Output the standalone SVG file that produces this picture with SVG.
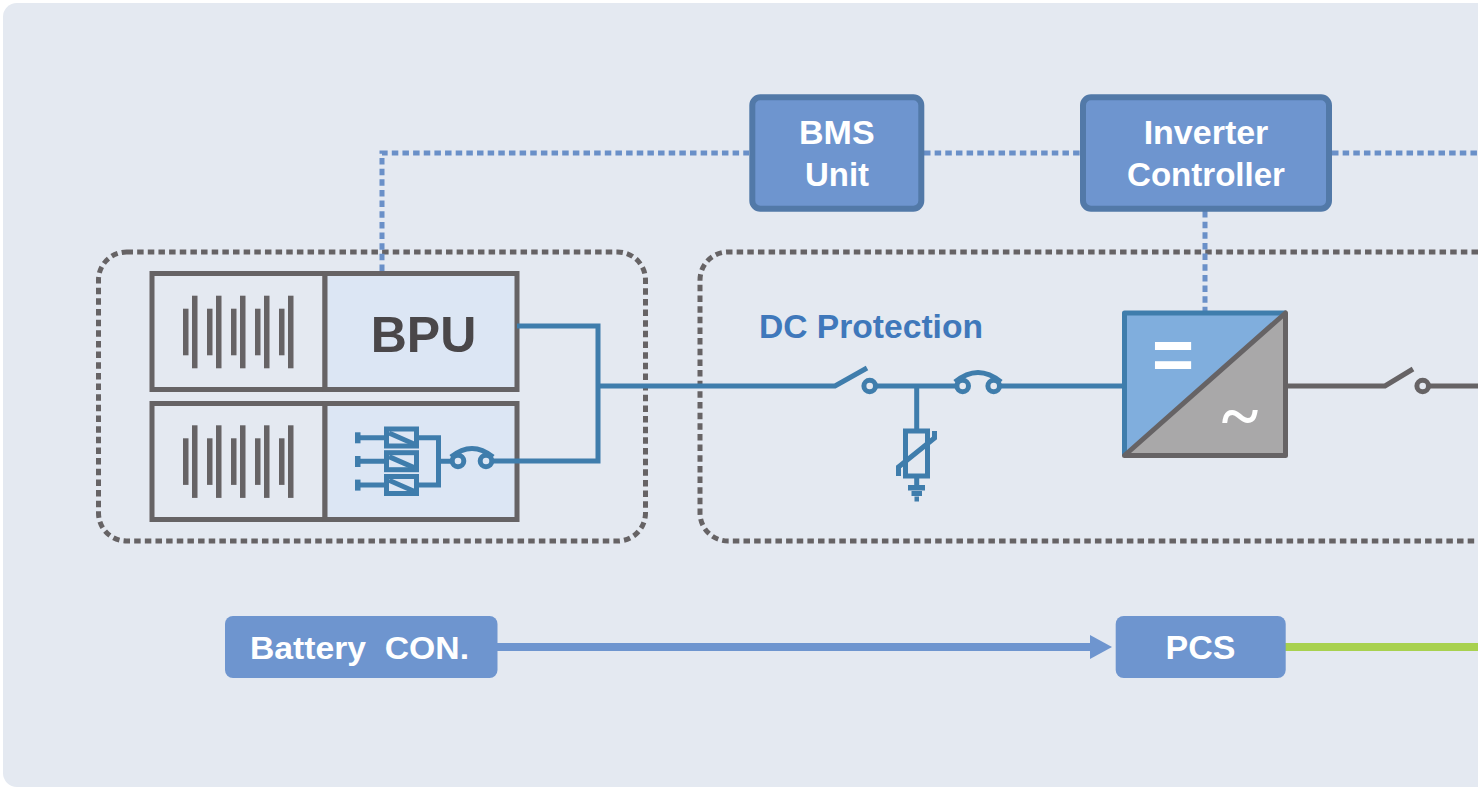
<svg xmlns="http://www.w3.org/2000/svg" width="1478" height="787" viewBox="0 0 1478 787">
<style>
text{font-family:"Liberation Sans",Arial,sans-serif;font-weight:700}
.w{fill:#fff;font-size:34px;text-anchor:middle}
.n{fill:#6e95cf;stroke:#5279a8;stroke-width:6}
.p{fill:#6e95cf}
.cell{fill:#e4e9f1;stroke:#666365;stroke-width:5}
.cellb{fill:#dce6f4;stroke:#666365;stroke-width:5}
.bar{fill:#666365}
.b{fill:none;stroke:#3f7dac;stroke-width:5}
.g{fill:none;stroke:#666365;stroke-width:5}
.bf{fill:#3f7dac}
.dash{fill:none;stroke:#666365;stroke-width:5;stroke-dasharray:6.5 4.15}
.dot{fill:none;stroke:#6a90c8;stroke-width:5;stroke-dasharray:6.5 4.15}
</style>
<defs>
<g id="bars">
<rect x="183" y="308.7" width="5.5" height="46.6"/><rect x="192" y="295.7" width="5.5" height="72.6"/>
<rect x="207" y="308.7" width="5.5" height="46.6"/><rect x="216" y="295.7" width="5.5" height="72.6"/>
<rect x="231" y="308.7" width="5.5" height="46.6"/><rect x="240" y="295.7" width="5.5" height="72.6"/>
<rect x="255" y="308.7" width="5.5" height="46.6"/><rect x="264" y="295.7" width="5.5" height="72.6"/>
<rect x="279" y="308.7" width="5.5" height="46.6"/><rect x="288" y="295.7" width="5.5" height="72.6"/>
</g>
</defs>
<rect width="1478" height="787" fill="#fff"/>
<rect x="3" y="3" width="1500" height="784" rx="14" fill="#e4e9f1"/>
<g id="group-left"><rect x="98.5" y="252" width="547" height="289" rx="28" class="dash"/></g>
<g id="group-right"><path d="M1478 252H728a28 28 0 0 0-28 28V513a28 28 0 0 0 28 28H1478" class="dash"/></g>
<g id="bpu-top">
<rect x="152" y="273.500" width="173" height="116" class="cell"/>
<rect x="325" y="273.500" width="192" height="116" class="cellb"/>
<use href="#bars" class="bar"/>
<text x="423.500" y="352" font-size="50" fill="#4a4749" text-anchor="middle">BPU</text>
</g>
<g id="bpu-bottom">
<rect x="152" y="403.500" width="173" height="116" class="cell"/>
<rect x="325" y="403.500" width="192" height="116" class="cellb"/>
<use href="#bars" y="129.6" class="bar"/>
<g id="relays" class="b">
<rect x="386.500" y="429" width="30" height="17"/><rect x="386.500" y="452.700" width="30" height="17"/><rect x="386.500" y="476.500" width="30" height="17"/>
<path d="M358 437.700H386M358 461.300H386M358 485H386M419 437.700H438.500V485H419M389 433L414 444M389 456.600L414 467.600M389 480.300L414 491.300M438 461.300H451"/>
<rect x="355" y="432.300" width="5.500" height="11" class="bf" stroke="none"/><rect x="355" y="456" width="5.500" height="11" class="bf" stroke="none"/><rect x="355" y="479.600" width="5.500" height="11" class="bf" stroke="none"/>
</g>
</g>
<g id="connectors">
<path d="M382 271V153H749M924 153H1080M1332 153H1478M1205 211V311" class="dot"/>
<path d="M493 461H598V326H517M598 386H835L867 368M876 386H956M999 386H1123M916.700 386V430M451 457Q472 440 493 457" class="b"/>
<circle cx="458" cy="461" r="5.800" class="b"/><circle cx="486" cy="461" r="5.800" class="b"/>
<circle cx="869.700" cy="386" r="5.800" class="b"/><circle cx="962.700" cy="386" r="5.800" class="b"/><circle cx="993.700" cy="386" r="5.800" class="b"/>
<path d="M955 382Q978 363 1001 382" class="b"/>
<path d="M1287 386H1385L1413 369M1429 386H1478" class="g"/>
<circle cx="1422.700" cy="386" r="5.800" class="g"/>
<rect x="497" y="643" width="594" height="8" class="p"/>
<path d="M1090 635L1112 647L1090 659Z" class="p"/>
<rect x="1285" y="643" width="193" height="8" fill="#a8d14f"/>
</g>
<g id="varistor">
<rect x="905.500" y="431" width="22" height="45" class="b"/>
<path d="M898.500 476V467L934.500 438V431M916.700 478V490" class="b"/>
<rect x="908" y="485" width="17" height="5.500" class="bf"/><rect x="911.500" y="491" width="10.500" height="5" class="bf"/><rect x="914.500" y="496.500" width="4.500" height="5" class="bf"/>
</g>
<text id="dc-protection" x="759" y="338" font-size="33" fill="#3f78bb" textLength="224" lengthAdjust="spacingAndGlyphs">DC Protection</text>
<g id="bms-unit">
<rect x="752.300" y="97.300" width="169" height="111.400" rx="8" class="n"/>
<text x="836.800" y="144" class="w">BMS</text><text x="837" y="186" class="w" textLength="64" lengthAdjust="spacingAndGlyphs">Unit</text>
</g>
<g id="inverter-controller">
<rect x="1083" y="97.300" width="246" height="111.400" rx="8" class="n"/>
<text x="1206" y="144" class="w">Inverter</text><text x="1206" y="186" class="w" textLength="158" lengthAdjust="spacingAndGlyphs">Controller</text>
</g>
<g id="inverter">
<path d="M1124.500 313H1285.500L1124.500 455.500Z" fill="#80aedd"/>
<path d="M1285.500 313V455.500H1124.500Z" fill="#a9a8a9"/>
<path d="M1285.500 313H1124.500V455.500" class="b" stroke-linejoin="round"/>
<path d="M1285.500 313V455.500H1124.500Z" class="g" stroke-linejoin="round"/>
<text x="1173" y="379" font-size="72" fill="#fff" text-anchor="middle">=</text>
<text x="1240" y="439" font-size="70" fill="#fff" text-anchor="middle" style="font-family:'Liberation Serif',serif">~</text>
</g>
<g id="battery-con">
<rect x="225" y="616" width="272.500" height="62" rx="8" class="p"/>
<text x="250" y="659" font-size="32" fill="#fff" xml:space="preserve" textLength="219" lengthAdjust="spacingAndGlyphs">Battery  CON.</text>
</g>
<g id="pcs">
<rect x="1115.700" y="616" width="170" height="62" rx="8" class="p"/>
<text x="1200.500" y="659" font-size="34" fill="#fff" text-anchor="middle">PCS</text>
</g>
</svg>
